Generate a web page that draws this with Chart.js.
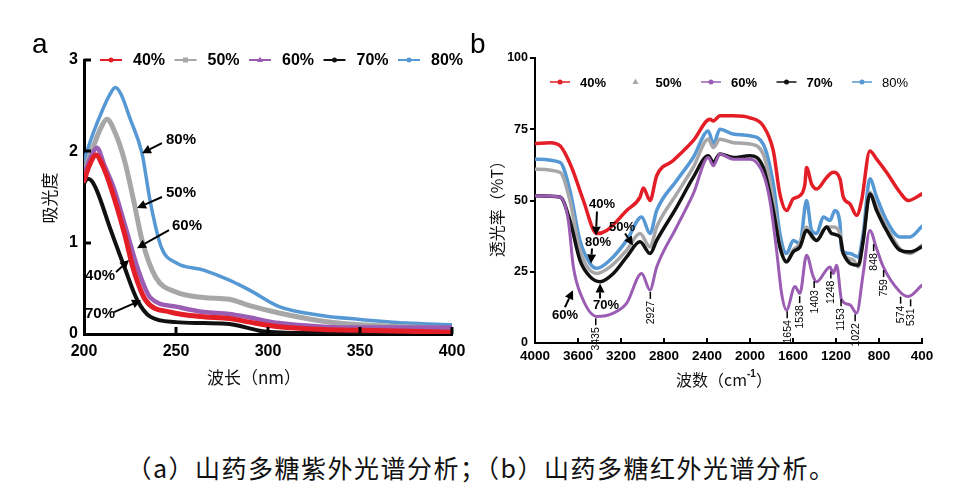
<!DOCTYPE html>
<html><head><meta charset="utf-8">
<script src="https://cdn.jsdelivr.net/npm/chart.js@4"></script>
<style>
html,body{margin:0;padding:0;background:#fff;}
#wrap{position:relative;width:954px;height:492px;overflow:hidden;background:#fff;}
#boxA{position:absolute;left:0;top:0;width:480px;height:400px;}
#boxB{position:absolute;left:480px;top:0;width:474px;height:400px;}
.pl{position:absolute;font-family:"Liberation Sans",Arial,sans-serif;font-size:28px;line-height:28px;color:#000;}
#caption{position:absolute;left:4px;width:954px;top:452px;text-align:center;font-family:"Noto Sans CJK SC",sans-serif;font-size:25px;letter-spacing:1.5px;line-height:30px;color:#111;}
</style></head>
<body>
<div id="wrap">
  <div id="boxA"><canvas id="cA"></canvas></div>
  <div id="boxB"><canvas id="cB"></canvas></div>
  <div class="pl" style="left:32px;top:30px;">a</div>
  <div class="pl" style="left:470px;top:30px;">b</div>
  <div id="caption">（a）山药多糖紫外光谱分析；（b）山药多糖红外光谱分析。</div>
</div>
<script>
// ---------------- DATA ----------------
const seriesLabels = ['40%', '50%', '60%', '70%', '80%'];

// (a) UV spectra: wavelength (nm) and absorbance
const uv40_nm  = [200, 203, 206.5, 210, 214.5, 222, 227, 233.5, 247, 265, 279, 290, 306, 330, 350, 400];
const uv40_abs = [1.68, 1.85, 1.96, 1.85, 1.61, 1.10, 0.70, 0.37, 0.24, 0.19, 0.17, 0.13, 0.08, 0.05, 0.04, 0.02];
const uv50_nm  = [200, 205, 209, 212.5, 217, 222, 227, 231.5, 239, 250, 265, 279, 290, 306, 330, 350, 375, 400];
const uv50_abs = [1.79, 2.05, 2.25, 2.35, 2.20, 1.90, 1.46, 1.03, 0.62, 0.46, 0.40, 0.38, 0.31, 0.23, 0.14, 0.10, 0.08, 0.06];
const uv60_nm  = [200, 204, 207, 211, 216, 223, 229, 236, 250, 265, 279, 290, 306, 330, 350, 400];
const uv60_abs = [1.75, 1.95, 2.04, 1.85, 1.61, 1.14, 0.73, 0.40, 0.30, 0.24, 0.22, 0.18, 0.12, 0.08, 0.07, 0.07];
const uv70_nm  = [200, 202, 204, 207, 214.5, 222, 229, 236, 250, 265, 279, 297, 320, 360, 400];
const uv70_abs = [1.65, 1.70, 1.68, 1.57, 1.14, 0.73, 0.37, 0.19, 0.13, 0.12, 0.11, 0.03, 0.01, 0.01, 0.01];
const uv80_nm  = [200, 205, 210, 214, 217, 220, 225, 231.5, 236, 242, 250, 265, 279, 290, 306, 330, 350, 375, 400];
const uv80_abs = [1.90, 2.20, 2.45, 2.62, 2.70, 2.63, 2.36, 1.98, 1.45, 0.95, 0.78, 0.70, 0.59, 0.48, 0.30, 0.20, 0.16, 0.12, 0.10];

// (b) IR spectra: wavenumber (cm-1) and transmittance (%T)
const ir40_wn = [4000, 3860, 3767, 3659, 3550, 3426, 3333, 3147, 3023, 2992, 2930, 2868, 2714, 2528, 2372, 2341, 2280, 2156, 2000, 1877, 1783, 1722, 1660, 1598, 1536, 1489, 1474, 1427, 1380, 1287, 1225, 1163, 1132, 1070, 1008, 962, 885, 822, 730, 606, 528, 400];
const ir40_T  = [70.0, 70.3, 69.2, 61.6, 50, 38.4, 39.5, 46.5, 51.2, 54.4, 50, 58.7, 64, 71, 78.5, 77.9, 79.7, 79.7, 79, 76.2, 67.4, 52.3, 46.5, 50.6, 51.7, 55.8, 61.6, 55.8, 54, 58.1, 59.9, 57.6, 51.2, 48.8, 44.8, 50, 67.4, 64.5, 59.9, 52.9, 50, 52.3];
const ir50_wn = [4000, 3767, 3675, 3582, 3426, 3302, 3147, 3023, 2930, 2868, 2682, 2528, 2388, 2341, 2280, 2156, 2000, 1877, 1783, 1722, 1660, 1598, 1536, 1474, 1427, 1380, 1287, 1225, 1163, 1132, 1039, 993, 947, 885, 822, 730, 606, 512, 400];
const ir50_T  = [61, 59.9, 50, 32.6, 24.4, 26.7, 32.6, 38.4, 33.7, 40.7, 52.3, 61.6, 71.5, 68.6, 71.5, 70.3, 69.8, 66.3, 50, 34.9, 28.5, 32.6, 34.9, 40.7, 37.2, 36, 40.7, 40.7, 38.4, 31.4, 29.1, 26.7, 36, 52.9, 47.7, 40.7, 33.1, 31.4, 34.3];
const ir60_wn = [4000, 3767, 3690, 3643, 3566, 3426, 3271, 3147, 3008, 2930, 2868, 2682, 2528, 2388, 2341, 2280, 2156, 2000, 1877, 1815, 1753, 1706, 1660, 1582, 1536, 1474, 1412, 1380, 1256, 1225, 1194, 1148, 1070, 1008, 947, 885, 822, 760, 606, 528, 400];
const ir60_T  = [51.7, 51.2, 43, 26.7, 16.3, 9.3, 10.5, 14, 24.4, 18.6, 26.7, 40.7, 52.3, 65.1, 62.2, 66.3, 64.5, 64.5, 59.3, 50, 32.6, 17.4, 11.6, 19.8, 17.4, 30.8, 23.3, 21.5, 26.7, 24.4, 27.3, 15.1, 13.4, 10.5, 24.4, 39.5, 33.1, 26.7, 18, 16.3, 20.3];
const ir70_wn = [4000, 3767, 3675, 3582, 3488, 3395, 3271, 3147, 3023, 2930, 2868, 2682, 2528, 2388, 2341, 2280, 2156, 2000, 1877, 1783, 1722, 1660, 1598, 1536, 1474, 1380, 1287, 1240, 1163, 1132, 993, 947, 885, 822, 730, 606, 512, 400];
const ir70_T  = [51.7, 51.2, 43, 29.1, 23.3, 21.5, 24.4, 30.2, 35.5, 31.4, 36, 47.7, 58.1, 65.7, 63.4, 66.3, 65.1, 65.7, 61.6, 46.5, 33.7, 28.5, 32, 33.7, 39.5, 36, 40.7, 38.4, 37.2, 31.4, 27.3, 36, 52.3, 46.5, 39.5, 32.6, 32, 33.7];
const ir80_wn = [4000, 3767, 3675, 3582, 3488, 3426, 3302, 3147, 3008, 2930, 2868, 2682, 2528, 2388, 2341, 2280, 2156, 2000, 1877, 1783, 1722, 1660, 1598, 1536, 1474, 1427, 1380, 1318, 1256, 1210, 1163, 1148, 1070, 993, 947, 885, 822, 730, 606, 512, 400];
const ir80_T  = [64.5, 63.4, 53.5, 36, 27.9, 26.2, 29.1, 36, 44.2, 38.4, 46.5, 57, 65.1, 74.4, 69.8, 75, 73.3, 72.7, 69.8, 55.8, 38.4, 31.4, 36, 34.9, 50, 39.5, 38.4, 44.2, 43, 46.5, 41.9, 32.6, 31.4, 30.2, 38.4, 57.6, 51.2, 43, 37.2, 37.2, 40.9];

// tick labels
const uvTicksX = [200, 250, 300, 350, 400];
const uvTicksY = [0, 1, 2, 3];
const irTicksX = [4000, 3600, 3200, 2800, 2400, 2000, 1600, 1200, 800, 400];
const irTicksY = [0, 25, 50, 75, 100];

// IR peak assignments (cm-1)
const irPeaks = [3435, 2927, 1654, 1538, 1403, 1248, 1153, 1022, 848, 759, 574, 531];

// ---------------- HELPERS ----------------
const pts = (xs, ys) => xs.map((x, i) => ({x: x, y: ys[i]}));
const COLORS = {r: '#e41e26', g: '#a7a7a9', p: '#9a5db3', k: '#111111', b: '#5598d4'};
Chart.defaults.font.family = '"Liberation Sans", Arial, sans-serif';
Chart.defaults.color = '#000';

function interp(xs, ys, x) {
  for (let i = 0; i < xs.length - 1; i++) {
    const a = xs[i], b = xs[i + 1];
    if ((x - a) * (x - b) <= 0) { const t = (x - a) / (b - a); return ys[i] + t * (ys[i + 1] - ys[i]); }
  }
  return ys[ys.length - 1];
}

function arrow(ctx, x1, y1, x2, y2, head, w) {
  const ang = Math.atan2(y2 - y1, x2 - x1);
  const bx = x2 - head * Math.cos(ang), by = y2 - head * Math.sin(ang);
  ctx.lineWidth = 2; ctx.strokeStyle = '#000'; ctx.fillStyle = '#000';
  ctx.beginPath(); ctx.moveTo(x1, y1); ctx.lineTo(bx, by); ctx.stroke();
  ctx.beginPath();
  ctx.moveTo(x2, y2);
  ctx.lineTo(bx + w * Math.sin(ang), by - w * Math.cos(ang));
  ctx.lineTo(bx - w * Math.sin(ang), by + w * Math.cos(ang));
  ctx.closePath(); ctx.fill();
}

function drawMarker(ctx, style, x, y, color) {
  ctx.fillStyle = color;
  ctx.beginPath();
  if (style === 'rect') { ctx.rect(x - 2.5, y - 2.5, 5, 5); }
  else if (style === 'triangle') { ctx.moveTo(x, y - 3.5); ctx.lineTo(x + 3, y + 2); ctx.lineTo(x - 3, y + 2); ctx.closePath(); }
  else { ctx.arc(x, y, 2.5, 0, Math.PI * 2); }
  ctx.fill();
}

function drawLegend(chart, o) {
  const ctx = chart.ctx;
  ctx.save();
  chart.data.datasets.forEach((ds, i) => {
    const x0 = o.x + i * o.stride;
    if (!ds.legendNoLine) {
      ctx.strokeStyle = ds.borderColor; ctx.lineWidth = o.lw;
      ctx.beginPath(); ctx.moveTo(x0, o.y); ctx.lineTo(x0 + o.len, o.y); ctx.stroke();
    }
    drawMarker(ctx, ds.legendMarker, x0 + o.len / 2, o.y, ds.legendMarkerColor || ds.borderColor);
    ctx.fillStyle = '#000';
    ctx.font = (ds.legendBold === false ? '' : 'bold ') + o.size + 'px "Liberation Sans", Arial, sans-serif';
    ctx.textAlign = 'left'; ctx.textBaseline = 'middle';
    ctx.fillText(ds.label, x0 + o.len + o.gap, o.y + 1);
  });
  ctx.restore();
}

function drawTickMarks(chart, o) {
  const ctx = chart.ctx, a = chart.chartArea, sx = chart.scales.x, sy = chart.scales.y;
  ctx.save(); ctx.strokeStyle = '#000'; ctx.lineWidth = o.w;
  sx.ticks.forEach(t => {
    const px = Math.round(sx.getPixelForValue(t.value));
    if (px <= a.left + 1) return;
    ctx.beginPath(); ctx.moveTo(px, a.bottom); ctx.lineTo(px, a.bottom + o.xLen); ctx.stroke();
  });
  sy.ticks.forEach(t => {
    const py = Math.round(sy.getPixelForValue(t.value));
    if (py >= a.bottom - 1) return;
    ctx.beginPath(); ctx.moveTo(a.left, py); ctx.lineTo(a.left + o.yLen, py); ctx.stroke();
  });
  ctx.restore();
}

function drawArrows(chart, list, size) {
  const ctx = chart.ctx, sx = chart.scales.x, sy = chart.scales.y;
  ctx.save();
  list.forEach(a => {
    const tx = sx.getPixelForValue(a.x), ty = sy.getPixelForValue(a.y);
    arrow(ctx, tx + a.tail[0], ty + a.tail[1], tx, ty, 9, 4.5);
    ctx.fillStyle = '#000';
    ctx.font = 'bold ' + size + 'px "Liberation Sans", Arial, sans-serif';
    ctx.textAlign = a.align; ctx.textBaseline = 'middle';
    ctx.fillText(a.t, tx + a.lab[0], ty + a.lab[1]);
  });
  ctx.restore();
}

// ---------------- CHART A (UV) ----------------
const uvArrows = [
  {t: '80%', x: 231.5, y: 1.98, tail: [20, -10], lab: [24, -13], align: 'left'},
  {t: '50%', x: 228.8, y: 1.38, tail: [25, -11], lab: [29, -15], align: 'left'},
  {t: '60%', x: 228.8, y: 0.94, tail: [32, -18], lab: [35, -22], align: 'left'},
  {t: '40%', x: 224.5, y: 0.81, tail: [-13, 12], lab: [-29, 16], align: 'center'},
  {t: '70%', x: 231, y: 0.37, tail: [-27, 12], lab: [-41, 14], align: 'center'}
];

const pluginA = {
  id: 'decorA',
  afterDraw(chart) {
    const ctx = chart.ctx;
    drawTickMarks(chart, {w: 3, xLen: -7, yLen: 7});
    drawArrows(chart, uvArrows, 15);
    drawLegend(chart, {x: 100, stride: 74.5, y: 60, len: 22, gap: 11, size: 16, lw: 2});
    ctx.save();
    ctx.fillStyle = '#111';
    ctx.font = '17px "Noto Sans CJK SC", sans-serif';
    ctx.textAlign = 'center'; ctx.textBaseline = 'middle';
    ctx.fillText('波长（nm）', 254, 378);
    ctx.translate(50, 198); ctx.rotate(-Math.PI / 2);
    ctx.fillText('吸光度', 0, 0);
    ctx.restore();
  }
};

new Chart(document.getElementById('cA'), {
  type: 'line',
  data: {
    datasets: [
      {label: seriesLabels[0], data: pts(uv40_nm, uv40_abs), borderColor: COLORS.r, borderWidth: 5, order: 0, legendMarker: 'circle'},
      {label: seriesLabels[1], data: pts(uv50_nm, uv50_abs), borderColor: COLORS.g, borderWidth: 5, order: 3, legendMarker: 'rect'},
      {label: seriesLabels[2], data: pts(uv60_nm, uv60_abs), borderColor: COLORS.p, borderWidth: 4.5, order: 2, legendMarker: 'triangle'},
      {label: seriesLabels[3], data: pts(uv70_nm, uv70_abs), borderColor: COLORS.k, borderWidth: 4, order: 1, legendMarker: 'circle'},
      {label: seriesLabels[4], data: pts(uv80_nm, uv80_abs), borderColor: COLORS.b, borderWidth: 3.5, order: 4, legendMarker: 'circle'}
    ]
  },
  options: {
    responsive: true, maintainAspectRatio: false, animation: false,
    layout: {padding: {left: 0, top: 60, right: 28, bottom: 0}},
    elements: {point: {radius: 0}, line: {cubicInterpolationMode: 'monotone', borderCapStyle: 'round', borderJoinStyle: 'round'}},
    plugins: {legend: {display: false}, tooltip: {enabled: false}},
    scales: {
      x: {
        type: 'linear', min: 200, max: 400,
        afterFit: s => { s.height = 66; },
        afterBuildTicks: s => { s.ticks = uvTicksX.map(v => ({value: v})); },
        grid: {display: false, drawTicks: false},
        border: {display: true, color: '#000', width: 3},
        ticks: {padding: 8, font: {size: 16, weight: 'bold'}, color: '#000', maxRotation: 0, callback: v => String(v)}
      },
      y: {
        type: 'linear', min: 0, max: 3,
        afterFit: s => { s.width = 84; },
        afterBuildTicks: s => { s.ticks = uvTicksY.map(v => ({value: v})); },
        grid: {display: false, drawTicks: false},
        border: {display: true, color: '#000', width: 3},
        ticks: {padding: 6, font: {size: 16, weight: 'bold'}, color: '#000', callback: v => String(v)}
      }
    }
  },
  plugins: [pluginA]
});

// ---------------- CHART B (IR) ----------------
const irArrows = [
  {t: '40%', x: 3433, y: 37.7, tail: [1, -24], lab: [6, -31], align: 'center'},
  {t: '80%', x: 3479, y: 27.9, tail: [1, -15], lab: [7, -21], align: 'center'},
  {t: '50%', x: 3088, y: 34.2, tail: [-8, -12], lab: [-11, -18], align: 'center'},
  {t: '70%', x: 3395, y: 20.9, tail: [0, 15], lab: [6, 22], align: 'center'},
  {t: '60%', x: 3647, y: 18.5, tail: [-8, 17], lab: [-8, 25], align: 'center'}
];

const pluginB = {
  id: 'decorB',
  afterDraw(chart) {
    const ctx = chart.ctx, sx = chart.scales.x, sy = chart.scales.y;
    drawTickMarks(chart, {w: 2, xLen: -5, yLen: -5});
    drawArrows(chart, irArrows, 13);
    drawLegend(chart, {x: 70, stride: 75.5, y: 82, len: 20, gap: 10, size: 13, lw: 1.5});
    // peak labels hanging below the 60% curve
    const marks = irPeaks.map(w => ({w: w, x: sx.getPixelForValue(w), y: sy.getPixelForValue(interp(ir60_wn, ir60_T, w))}));
    for (let i = 1; i < marks.length; i++) {
      const d = marks[i].x - marks[i - 1].x;
      if (d < 10) { const s = (10 - d) / 2; marks[i - 1].x -= s; marks[i].x += s; }
    }
    ctx.save();
    ctx.strokeStyle = '#000'; ctx.fillStyle = '#000'; ctx.lineWidth = 1.5;
    ctx.font = '10.5px "Liberation Sans", Arial, sans-serif';
    marks.forEach(m => {
      const py = m.y + 3;
      ctx.beginPath(); ctx.moveTo(m.x, py); ctx.lineTo(m.x, py + 7); ctx.stroke();
      ctx.save(); ctx.translate(m.x, py + 9); ctx.rotate(-Math.PI / 2);
      ctx.textAlign = 'right'; ctx.textBaseline = 'middle';
      ctx.fillText(String(m.w), 0, 0.5); ctx.restore();
    });
    ctx.restore();
    // axis titles
    ctx.save();
    ctx.fillStyle = '#111'; ctx.textBaseline = 'middle';
    ctx.font = '16px "Noto Sans CJK SC", sans-serif';
    ctx.textAlign = 'left';
    const t1 = '波数（cm', t2 = '-1', t3 = '）';
    const w1 = ctx.measureText(t1).width;
    ctx.font = 'bold 10px "Liberation Sans", Arial, sans-serif';
    const w2 = ctx.measureText(t2).width;
    ctx.font = '16px "Noto Sans CJK SC", sans-serif';
    const w3 = ctx.measureText(t3).width;
    let x0 = 244 - (w1 + w2 + w3) / 2;
    ctx.fillText(t1, x0, 380);
    ctx.font = 'bold 10px "Liberation Sans", Arial, sans-serif';
    ctx.fillText(t2, x0 + w1, 374);
    ctx.font = '16px "Noto Sans CJK SC", sans-serif';
    ctx.fillText(t3, x0 + w1 + w2, 380);
    ctx.textAlign = 'center';
    ctx.translate(17, 205); ctx.rotate(-Math.PI / 2);
    ctx.fillText('透光率（%T）', 0, 0);
    ctx.restore();
  }
};

new Chart(document.getElementById('cB'), {
  type: 'line',
  data: {
    datasets: [
      {label: seriesLabels[0], data: pts(ir40_wn, ir40_T), borderColor: COLORS.r, borderWidth: 3.5, order: 4, legendMarker: 'circle'},
      {label: seriesLabels[1], data: pts(ir50_wn, ir50_T), borderColor: COLORS.g, borderWidth: 3.5, order: 2, legendMarker: 'triangle', legendNoLine: true},
      {label: seriesLabels[2], data: pts(ir60_wn, ir60_T), borderColor: COLORS.p, borderWidth: 3, order: 0, legendMarker: 'circle'},
      {label: seriesLabels[3], data: pts(ir70_wn, ir70_T), borderColor: COLORS.k, borderWidth: 3.5, order: 1, legendMarker: 'circle'},
      {label: seriesLabels[4], data: pts(ir80_wn, ir80_T), borderColor: COLORS.b, borderWidth: 3.5, order: 3, legendMarker: 'circle', legendBold: false}
    ]
  },
  options: {
    responsive: true, maintainAspectRatio: false, animation: false,
    layout: {padding: {left: 0, top: 58, right: 32, bottom: 0}},
    elements: {point: {radius: 0}, line: {cubicInterpolationMode: 'monotone', borderCapStyle: 'round', borderJoinStyle: 'round'}},
    plugins: {legend: {display: false}, tooltip: {enabled: false}},
    scales: {
      x: {
        type: 'linear', min: 400, max: 4000, reverse: true,
        afterFit: s => { s.height = 57; },
        afterBuildTicks: s => { s.ticks = irTicksX.map(v => ({value: v})); },
        grid: {display: false, drawTicks: false},
        border: {display: true, color: '#000', width: 2},
        ticks: {padding: 5, font: {size: 13.5, weight: 'bold'}, color: '#000', maxRotation: 0, autoSkip: false, callback: v => String(v)}
      },
      y: {
        type: 'linear', min: 0, max: 100,
        afterFit: s => { s.width = 55; },
        afterBuildTicks: s => { s.ticks = irTicksY.map(v => ({value: v})); },
        grid: {display: false, drawTicks: false},
        border: {display: true, color: '#000', width: 2},
        ticks: {padding: 7, font: {size: 12.5, weight: 'bold'}, color: '#000', callback: v => String(v)}
      }
    }
  },
  plugins: [pluginB]
});
</script>
</body></html>
